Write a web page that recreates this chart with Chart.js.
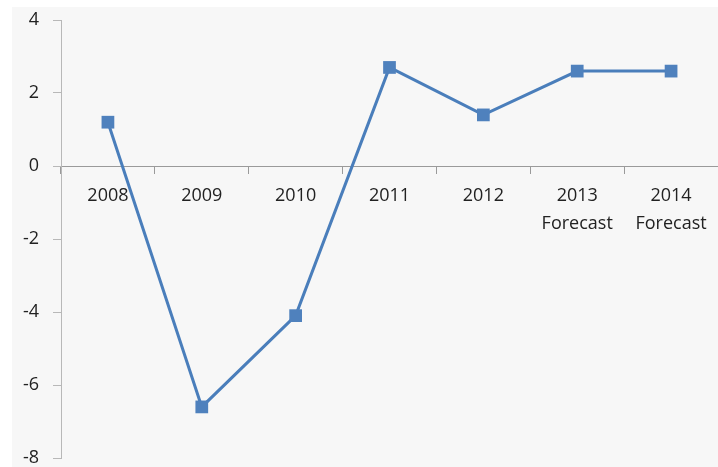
<!DOCTYPE html>
<html>
<head>
<meta charset="utf-8">
<script src="https://cdn.jsdelivr.net/npm/chart.js@4"></script>
<style>
  html, body { margin: 0; padding: 0; background: #ffffff; }
  #wrap { width: 718px; height: 467px; position: relative; overflow: hidden; }
</style>
</head>
<body>
<div id="wrap"><canvas id="myChart" width="727" height="467"></canvas></div>
<script>
var years = [['2008'], ['2009'], ['2010'], ['2011'], ['2012'], ['2013', 'Forecast'], ['2014', 'Forecast']];
var growth = [1.2, -6.6, -4.1, 2.7, 1.4, 2.6, 2.6];
var yMin = -8, yMax = 4, yStep = 2;

// grey panel behind the plot, like the original screenshot
var panel = {
    id: 'panel',
    beforeDraw: function(chart) {
        var c = chart.ctx;
        c.save();
        c.fillStyle = '#f7f7f7';
        c.fillRect(12, 7, chart.width - 12, chart.height - 7);
        c.restore();
    }
};

var ctx = document.getElementById('myChart').getContext('2d');
var myChart = new Chart(ctx, {
    type: 'line',
    data: {
        labels: years,
        datasets: [{
            label: 'growth',
            data: growth,
            borderColor: '#4a7ebb',
            backgroundColor: '#4f81bd',
            borderWidth: 3,
            pointStyle: 'rect',
            pointRadius: 9,
            pointBorderWidth: 0,
            tension: 0
        }]
    },
    options: {
        responsive: false,
        animation: false,
        layout: { padding: { top: 20, bottom: 8, left: 0, right: 0 } },
        plugins: { legend: { display: false }, tooltip: { enabled: false } },
        scales: {
            x: {
                position: { y: 0 },
                offset: true,
                afterFit: function(s) { s.paddingLeft = 0; s.paddingRight = 0; },
                grid: { offset: true, drawOnChartArea: false, drawTicks: true, tickLength: 7, color: '#9a9a9a' },
                border: { color: '#9a9a9a', width: 1 },
                ticks: { color: '#222', padding: 9, maxRotation: 0, autoSkip: false,
                         font: { family: 'Open Sans', size: 18, lineHeight: 1.55 } }
            },
            y: {
                min: yMin,
                max: yMax,
                afterFit: function(s) { s.width = 61; s.paddingTop = 0; s.paddingBottom = 0; },
                grid: { drawOnChartArea: false, drawTicks: true, tickLength: 8, color: '#b8b8b8' },
                border: { color: '#b8b8b8', width: 1 },
                ticks: { stepSize: yStep, color: '#222', padding: 14,
                         font: { family: 'Open Sans', size: 18 } }
            }
        }
    },
    plugins: [panel]
});
</script>
</body>
</html>
